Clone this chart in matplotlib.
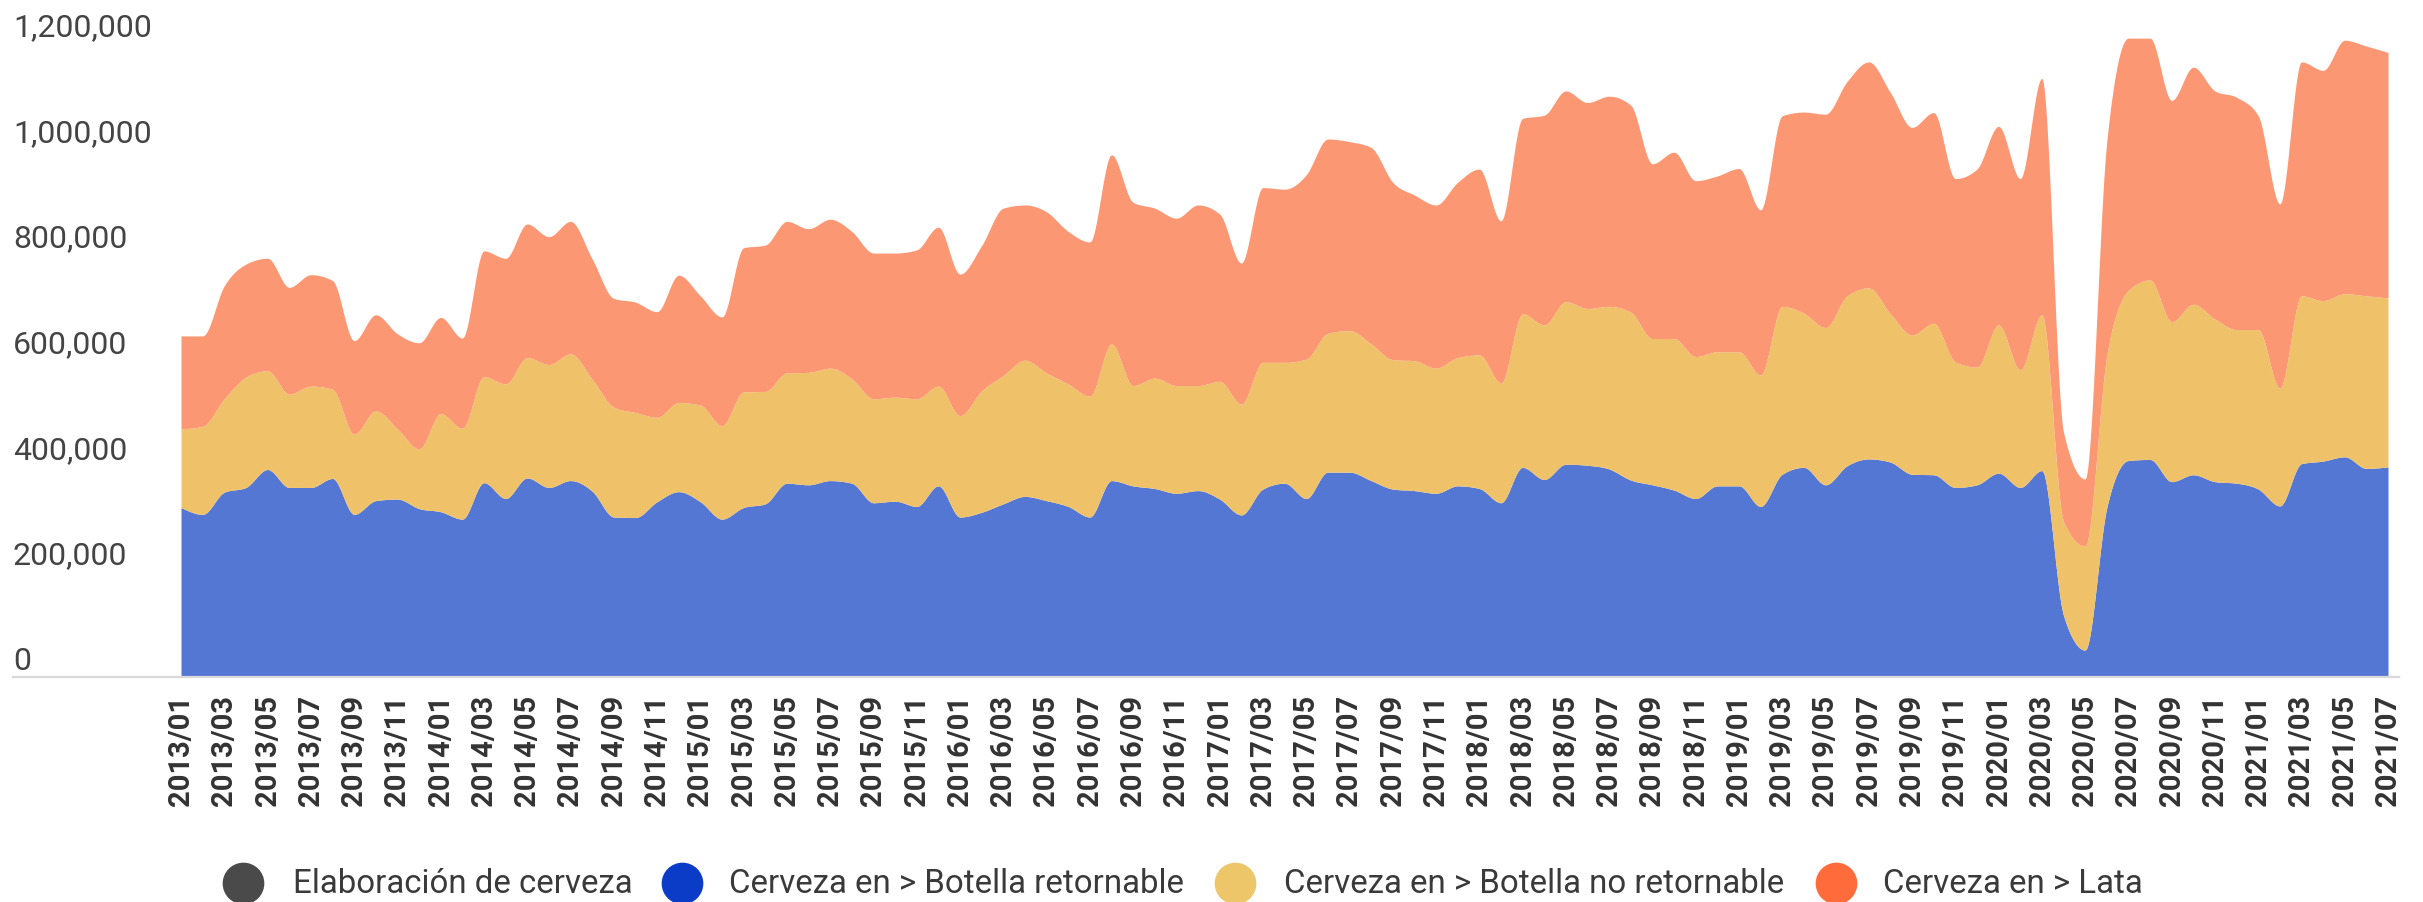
import numpy as np
import matplotlib.pyplot as plt
from matplotlib.lines import Line2D

# monthly volumes, thousands of litres
months = [f"{y}/{m:02d}" for y in range(2013, 2022) for m in range(1, 13)][:103]

botella_retornable = [
    321, 308, 350, 359, 393, 359, 359, 376, 308, 334, 337, 319,
    313, 299, 368, 338, 377, 359, 372, 352, 303, 302, 332, 351,
    332, 299, 321, 328, 367, 364, 372, 367, 330, 333, 323, 362,
    303, 312, 328, 342, 334, 323, 303, 372, 362, 357, 348, 353,
    337, 307, 356, 367, 338, 388, 388, 372, 356, 353, 348, 362,
    357, 330, 397, 374, 403, 401, 394, 373, 364, 354, 338, 362,
    362, 323, 384, 397, 364, 400, 413, 407, 384, 383, 359, 364,
    386, 359, 391, 117, 51, 320, 410, 412, 370, 383, 370, 367,
    356, 324, 404, 409, 417, 395, 398,
]
botella_no_retornable = [
    149, 167, 177, 209, 187, 177, 192, 169, 152, 170, 133, 113,
    186, 172, 201, 217, 228, 233, 240, 212, 208, 199, 160, 169,
    183, 177, 219, 213, 209, 213, 213, 198, 197, 197, 204, 189,
    192, 230, 243, 258, 242, 232, 229, 259, 190, 209, 204, 199,
    223, 210, 240, 229, 264, 263, 268, 259, 245, 246, 237, 243,
    253, 227, 291, 293, 308, 297, 308, 318, 277, 287, 269, 254,
    254, 249, 318, 292, 298, 322, 324, 281, 264, 287, 238, 223,
    281, 223, 295, 178, 197, 288, 322, 340, 303, 323, 308, 291,
    302, 223, 318, 304, 309, 327, 320,
]
lata = [
    176, 171, 214, 214, 213, 202, 211, 206, 177, 182, 180, 201,
    182, 171, 238, 238, 253, 242, 251, 228, 206, 209, 200, 241,
    207, 206, 273, 277, 287, 272, 282, 279, 276, 273, 282, 301,
    268, 275, 317, 294, 305, 289, 292, 358, 347, 322, 317, 342,
    317, 267, 331, 328, 349, 368, 358, 372, 336, 314, 309, 332,
    352, 307, 370, 397, 399, 390, 398, 392, 331, 353, 333, 333,
    347, 313, 361, 381, 404, 406, 428, 419, 393, 399, 347, 375,
    376, 362, 448, 169, 127, 405, 478, 458, 419, 449, 432, 440,
    405, 349, 443, 436, 480, 473, 465,
]

series_names = [
    "Elaboración de cerveza",
    "Cerveza en > Botella retornable",
    "Cerveza en > Botella no retornable",
    "Cerveza en > Lata",
]
legend_colors = ["#4a4a4a", "#0b3cc7", "#eec66a", "#ff6b3a"]
area_colors = ["#5477d4", "#efc26a", "#fc9774"]

y_ticks = [0, 200000, 400000, 600000, 800000, 1000000, 1200000]

W, H, DPI = 2423, 903, 100
PX_LEFT, PX_RIGHT, PX_ZERO, PX_TOP = 181, 2388, 678, 18
UNITS_PER_PX = 1894


def monotone_x(y, steps=24):
    """Monotone cubic interpolation (same rule as d3.curveMonotoneX), unit spacing."""
    y = np.asarray(y, dtype=float)
    n = len(y)
    s = np.diff(y)
    t = np.zeros(n)
    for i in range(1, n - 1):
        s0, s1 = s[i - 1], s[i]
        p = (s0 + s1) / 2
        t[i] = (np.sign(s0) + np.sign(s1)) * min(abs(s0), abs(s1), 0.5 * abs(p))
    t[0] = (3 * s[0] - t[1]) / 2
    t[-1] = (3 * s[-1] - t[-2]) / 2
    u = np.linspace(0, 1, steps, endpoint=False)
    h00 = 2 * u**3 - 3 * u**2 + 1
    h10 = u**3 - 2 * u**2 + u
    h01 = -2 * u**3 + 3 * u**2
    h11 = u**3 - u**2
    xs, ys = [], []
    for i in range(n - 1):
        xs.append(i + u)
        ys.append(h00 * y[i] + h10 * t[i] + h01 * y[i + 1] + h11 * t[i + 1])
    xs.append([n - 1])
    ys.append([y[-1]])
    return np.concatenate(xs), np.concatenate(ys)


def main():
    plt.rcParams["font.family"] = ["Roboto", "DejaVu Sans"]

    b = np.array(botella_retornable) * 1000
    nr = np.array(botella_no_retornable) * 1000
    la = np.array(lata) * 1000
    c1 = b
    c2 = b + nr
    c3 = b + nr + la

    fig = plt.figure(figsize=(W / DPI, H / DPI), dpi=DPI)
    ax = fig.add_axes([
        PX_LEFT / W,
        (H - PX_ZERO) / H,
        (PX_RIGHT - PX_LEFT) / W,
        (PX_ZERO - PX_TOP) / H,
    ])
    ax.set_xlim(0, len(months) - 1)
    ax.set_ylim(0, (PX_ZERO - PX_TOP) * UNITS_PER_PX)

    xs, y1 = monotone_x(c1)
    _, y2 = monotone_x(c2)
    _, y3 = monotone_x(c3)
    ax.fill_between(xs, 0, y1, color=area_colors[0], linewidth=0)
    ax.fill_between(xs, y1, y2, color=area_colors[1], linewidth=0)
    ax.fill_between(xs, y2, y3, color=area_colors[2], linewidth=0)

    for side in ["top", "right", "left", "bottom"]:
        ax.spines[side].set_visible(False)

    # baseline running under the y labels
    x_l = (13 - PX_LEFT) / (PX_RIGHT - PX_LEFT)
    x_r = (2399 - PX_LEFT) / (PX_RIGHT - PX_LEFT)
    ax.plot([x_l, x_r], [0, 0], color="#d9d9d9", lw=1.6,
            transform=ax.get_yaxis_transform(), clip_on=False, zorder=3)

    # y labels sit just above their (invisible) gridlines
    ax.set_yticks([])
    for v in y_ticks:
        ax.text(x_l, v + 8 * UNITS_PER_PX, f"{v:,}", transform=ax.get_yaxis_transform(),
                ha="left", va="baseline", fontsize=23, color="#444444")

    ax.set_xticks(range(0, len(months), 2))
    ax.set_xticklabels(months[::2], rotation=90, fontsize=21, color="#333333",
                       fontweight="bold")
    ax.tick_params(axis="x", length=0, pad=12)

    # legend row
    circle_x = [243, 682, 1235, 1836]
    text_x = [293, 729, 1284, 1883]
    for name, col, cx, tx in zip(series_names, legend_colors, circle_x, text_x):
        fig.add_artist(Line2D([cx / W], [(H - 884) / H], marker="o", markersize=29,
                              color=col, linestyle="", transform=fig.transFigure))
        fig.text(tx / W, (H - 893) / H, name, ha="left", va="baseline",
                 fontsize=23.8, color="#3a3a3a")

    fig.savefig("out.png", dpi=DPI)
    plt.close(fig)


if __name__ == "__main__":
    main()
